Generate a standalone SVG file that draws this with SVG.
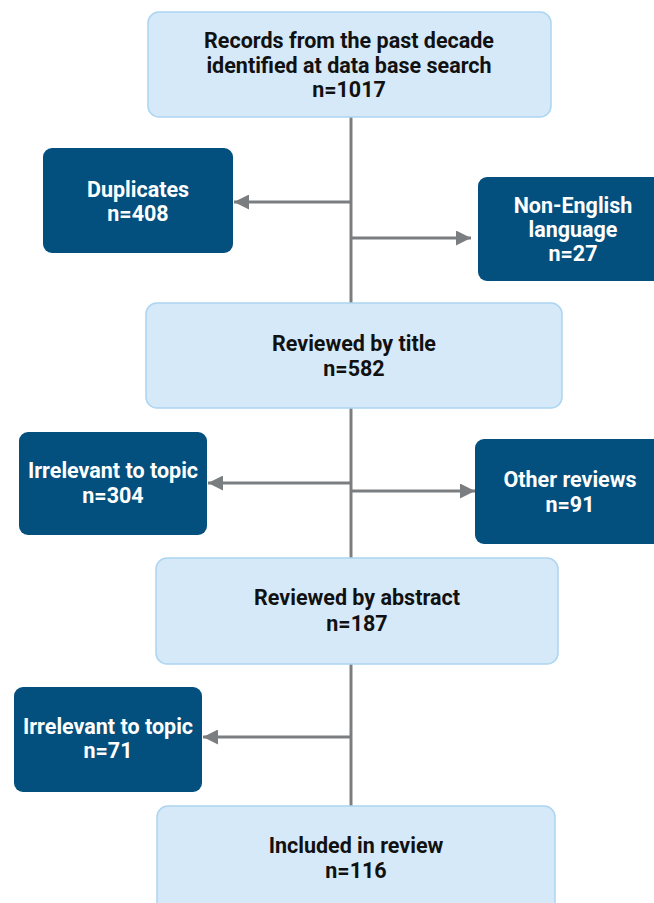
<svg xmlns="http://www.w3.org/2000/svg" width="654" height="903" viewBox="0 0 654 903">
<defs>
<marker id="ah" viewBox="0 0 10 10" refX="10" refY="5" markerWidth="5" markerHeight="5" orient="auto" markerUnits="strokeWidth">
<path d="M0,0 L10,5 L0,10 z" fill="#7b7e81"/>
</marker>
<style>
.lb{fill:#d6e9f8;stroke:#acd5f1;stroke-width:1.5}
.db{fill:#03507e}
.t{font-family:Roboto,"Liberation Sans",sans-serif;font-weight:700;font-size:21.5px;text-anchor:middle}
.tl{fill:#111111}
.td{fill:#ffffff}
.c{stroke:#7b7e81;stroke-width:3;fill:none}
</style>
</defs>
<rect width="654" height="903" fill="#ffffff"/>
<g id="connectors">
<line class="c" x1="351" y1="117" x2="351" y2="303"/>
<line class="c" x1="351" y1="407" x2="351" y2="559"/>
<line class="c" x1="351" y1="663" x2="351" y2="806"/>
<line class="c" x1="351" y1="202" x2="234" y2="202" marker-end="url(#ah)"/>
<line class="c" x1="351" y1="238" x2="471" y2="238" marker-end="url(#ah)"/>
<line class="c" x1="351" y1="483" x2="208" y2="483" marker-end="url(#ah)"/>
<line class="c" x1="351" y1="491" x2="475" y2="491" marker-end="url(#ah)"/>
<line class="c" x1="351" y1="737" x2="203" y2="737" marker-end="url(#ah)"/>
</g>
<g id="n1">
<rect class="lb" x="148" y="12" width="403" height="105" rx="11"/>
<text class="t tl" x="349" y="48">Records from the past decade</text>
<text class="t tl" x="349" y="73">identified at data base search</text>
<text class="t tl" x="349" y="97">n=1017</text>
</g>
<g id="dup">
<rect class="db" x="43" y="148" width="190" height="105" rx="9"/>
<text class="t td" x="138" y="197">Duplicates</text>
<text class="t td" x="138" y="221">n=408</text>
</g>
<g id="nonen">
<rect class="db" x="478" y="177" width="190" height="104" rx="9"/>
<text class="t td" x="573" y="213">Non-English</text>
<text class="t td" x="573" y="237">language</text>
<text class="t td" x="573" y="261">n=27</text>
</g>
<g id="title">
<rect class="lb" x="146" y="303" width="416" height="105" rx="11"/>
<text class="t tl" x="354" y="351">Reviewed by title</text>
<text class="t tl" x="354" y="376">n=582</text>
</g>
<g id="irr1">
<rect class="db" x="19" y="432" width="188" height="103" rx="9"/>
<text class="t td" x="113" y="478">Irrelevant to topic</text>
<text class="t td" x="113" y="503">n=304</text>
</g>
<g id="other">
<rect class="db" x="475" y="439" width="190" height="105" rx="9"/>
<text class="t td" x="570" y="487">Other reviews</text>
<text class="t td" x="570" y="512">n=91</text>
</g>
<g id="abstract">
<rect class="lb" x="156" y="558" width="402" height="106" rx="11"/>
<text class="t tl" x="357" y="605">Reviewed by abstract</text>
<text class="t tl" x="357" y="631">n=187</text>
</g>
<g id="irr2">
<rect class="db" x="14" y="687" width="188" height="105" rx="9"/>
<text class="t td" x="108" y="734">Irrelevant to topic</text>
<text class="t td" x="108" y="758">n=71</text>
</g>
<g id="included">
<rect class="lb" x="157" y="806" width="398" height="106" rx="11"/>
<text class="t tl" x="356" y="853">Included in review</text>
<text class="t tl" x="356" y="878">n=116</text>
</g>
</svg>
